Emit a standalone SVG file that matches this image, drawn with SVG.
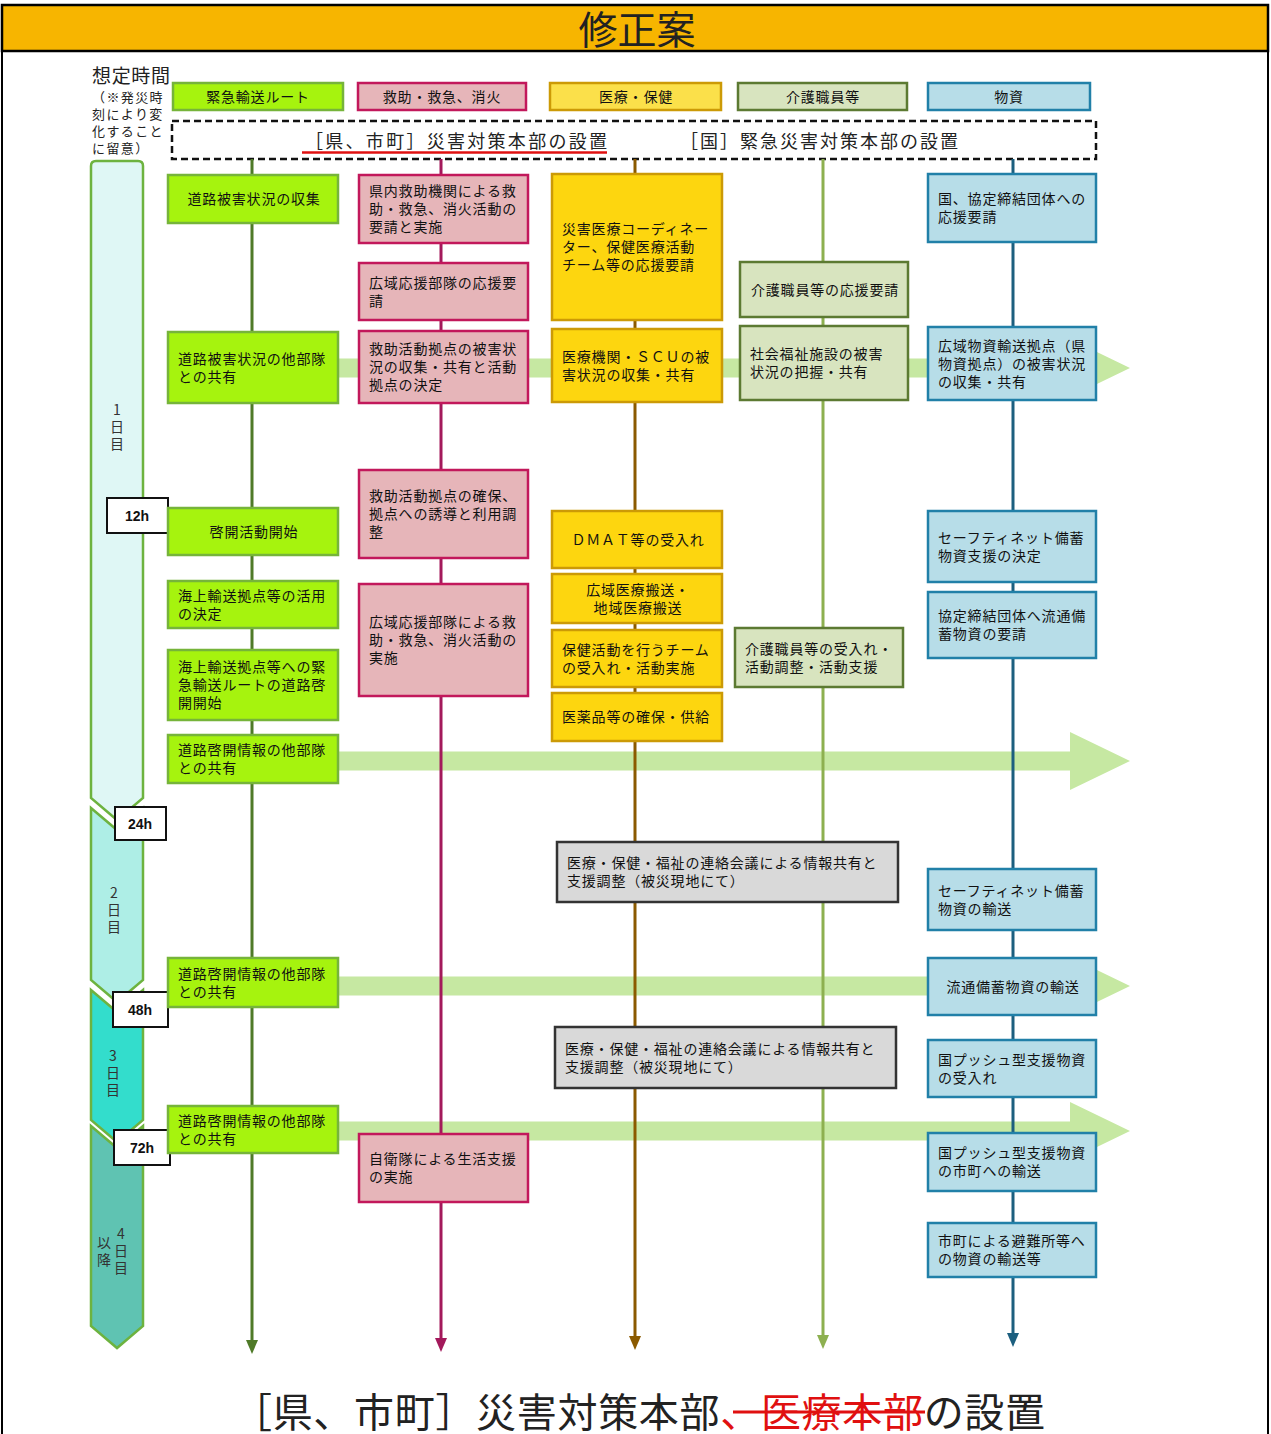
<svg xmlns="http://www.w3.org/2000/svg" width="1271" height="1434" viewBox="0 0 1271 1434">
<defs>
<style>
.t{font-family:"Noto Sans CJK JP","Noto Sans CJK SC",sans-serif;font-size:14px;letter-spacing:0.8px;fill:#111}
.c{text-anchor:middle}
.g{fill:#A6F30E;stroke:#76B43A;stroke-width:2.5}
.p{fill:#E6B5B9;stroke:#C2185B;stroke-width:2.5}
.y{fill:#FDD60F;stroke:#CC9A06;stroke-width:2.5}
.yh{fill:#FBE04A;stroke:#CC9A06;stroke-width:2.5}
.o{fill:#D8E4BF;stroke:#5C7A32;stroke-width:2.5}
.b{fill:#B7DDE8;stroke:#2180A8;stroke-width:2.5}
.k{fill:#D9D9D9;stroke:#333;stroke-width:2.5}
.tb{fill:#fff;stroke:#111;stroke-width:2}
.tt{font-family:"Liberation Sans",Arial,sans-serif;font-size:14px;font-weight:bold;fill:#111;text-anchor:middle}
.day{stroke:#6DB33F;stroke-width:2.5}
.dt{font-family:"Noto Sans CJK JP",sans-serif;font-size:14px;fill:#333;writing-mode:vertical-rl;text-orientation:upright;letter-spacing:3px}
.band{fill:#C6E8A2}
</style>
</defs>
<rect x="0" y="0" width="1271" height="1434" fill="#fff"/>
<rect x="2" y="50" width="1266" height="1400" fill="none" stroke="#000" stroke-width="2"/>
<g id="title">
<rect x="2" y="5" width="1266" height="46" fill="#F7B500" stroke="#000" stroke-width="2.5"/>
<text x="637" y="44" font-family="Noto Sans CJK JP,sans-serif" font-size="39" fill="#222" text-anchor="middle">修正案</text>
</g>
<g id="time-label">
<text x="92" y="83" font-family="Noto Sans CJK JP,sans-serif" font-size="19" fill="#222" textLength="78">想定時間</text>
<text font-family="Noto Sans CJK JP,sans-serif" font-size="13" fill="#222" letter-spacing="1.4">
<tspan x="92" y="102">（※発災時</tspan><tspan x="92" y="119">刻により変</tspan><tspan x="92" y="136">化すること</tspan><tspan x="92" y="153">に留意）</tspan>
</text>
</g>
<g id="headers">
<rect class="g" x="173" y="83" width="170" height="27"/><text class="t c" x="258" y="102">緊急輸送ルート</text>
<rect class="p" x="358" y="83" width="168" height="27"/><text class="t c" x="442" y="102">救助・救急、消火</text>
<rect class="yh" x="550" y="83" width="171" height="27"/><text class="t c" x="636" y="102">医療・保健</text>
<rect class="o" x="738" y="83" width="169" height="27"/><text class="t c" x="823" y="102">介護職員等</text>
<rect class="b" x="928" y="83" width="162" height="27"/><text class="t c" x="1009" y="102">物資</text>
</g>
<g id="hq-box">
<rect x="172" y="121" width="924" height="38" fill="#fff" stroke="#111" stroke-width="2.5" stroke-dasharray="7,4"/>
<text x="305" y="148" font-family="Noto Sans CJK JP,sans-serif" font-size="18" fill="#222" textLength="302" lengthAdjust="spacing">［県、市町］災害対策本部の設置</text>
<line x1="302" y1="152.5" x2="607" y2="152.5" stroke="#E01010" stroke-width="2.5"/>
<text x="680" y="148" font-family="Noto Sans CJK JP,sans-serif" font-size="18" fill="#222" textLength="278" lengthAdjust="spacing">［国］緊急災害対策本部の設置</text>
</g>
<g id="timebar">
<path class="day" fill="#DFF7F5" d="M91,166 Q91,161 96,161 L138,161 Q143,161 143,166 L143,798 L117,820 L91,798 Z"/>
<path class="day" fill="#AEEEE6" d="M91,808 L117,830 L143,808 L143,980 L117,1002 L91,980 Z"/>
<path class="day" fill="#33DDCC" d="M91,990 L117,1012 L143,990 L143,1120 L117,1142 L91,1120 Z"/>
<path class="day" fill="#5FC3B2" d="M91,1126 L117,1148 L143,1126 L143,1326 L117,1348 L91,1326 Z"/>
<text class="dt" x="117" y="403">1日目</text>
<text class="dt" x="114" y="886">2日目</text>
<text class="dt" x="113" y="1049">3日目</text>
<text class="dt" x="121" y="1227">4日目</text>
<text class="dt" x="104" y="1236">以降</text>
<rect class="tb" x="107" y="498" width="61" height="35"/><text class="tt" x="137" y="521">12h</text>
<rect class="tb" x="115" y="807" width="51" height="33"/><text class="tt" x="140" y="829">24h</text>
<rect class="tb" x="113" y="992" width="55" height="35"/><text class="tt" x="140" y="1015">48h</text>
<rect class="tb" x="114" y="1130" width="56" height="35"/><text class="tt" x="142" y="1153">72h</text>
</g>
<g id="connectors">
<path class="band" d="M337,358.5 L1070,358.5 L1070,339 L1130,368 L1070,397 L1070,377.5 L337,377.5 Z"/>
<path class="band" d="M337,751.5 L1070,751.5 L1070,732 L1130,761 L1070,790 L1070,770.5 L337,770.5 Z"/>
<path class="band" d="M337,976.5 L1070,976.5 L1070,957 L1130,986 L1070,1015 L1070,995.5 L337,995.5 Z"/>
<path class="band" d="M337,1121.5 L1070,1121.5 L1070,1102 L1130,1131 L1070,1160 L1070,1140.5 L337,1140.5 Z"/>
<line x1="252" y1="159" x2="252" y2="1342" stroke="#4F7A28" stroke-width="3"/>
<polygon points="246,1340 258,1340 252,1354" fill="#4F7A28"/>
<line x1="441" y1="159" x2="441" y2="1340" stroke="#A3195B" stroke-width="3"/>
<polygon points="435,1338 447,1338 441,1352" fill="#A3195B"/>
<line x1="635" y1="159" x2="635" y2="1338" stroke="#8B5A00" stroke-width="3"/>
<polygon points="629,1336 641,1336 635,1350" fill="#8B5A00"/>
<line x1="823" y1="159" x2="823" y2="1337" stroke="#8DB050" stroke-width="3"/>
<polygon points="817,1335 829,1335 823,1349" fill="#8DB050"/>
<line x1="1013" y1="159" x2="1013" y2="1335" stroke="#1C5F7F" stroke-width="3"/>
<polygon points="1007,1333 1019,1333 1013,1347" fill="#1C5F7F"/>
</g>
<g id="g1"><rect class="g" x="168" y="175" width="170" height="48"/><text class="t c" x="254" y="204">道路被害状況の収集</text></g>
<g id="g2"><rect class="g" x="168" y="332" width="170" height="71"/><text class="t"><tspan x="178" y="364">道路被害状況の他部隊</tspan><tspan x="178" y="382">との共有</tspan></text></g>
<g id="g3"><rect class="g" x="168" y="508" width="170" height="47"/><text class="t c" x="254" y="537">啓開活動開始</text></g>
<g id="g4"><rect class="g" x="168" y="581" width="170" height="47"/><text class="t"><tspan x="178" y="601">海上輸送拠点等の活用</tspan><tspan x="178" y="619">の決定</tspan></text></g>
<g id="g5"><rect class="g" x="168" y="650" width="170" height="70"/><text class="t"><tspan x="178" y="672">海上輸送拠点等への緊</tspan><tspan x="178" y="690">急輸送ルートの道路啓</tspan><tspan x="178" y="708">開開始</tspan></text></g>
<g id="g6"><rect class="g" x="168" y="735" width="170" height="48"/><text class="t"><tspan x="178" y="755">道路啓開情報の他部隊</tspan><tspan x="178" y="773">との共有</tspan></text></g>
<g id="g7"><rect class="g" x="168" y="958" width="170" height="49"/><text class="t"><tspan x="178" y="979">道路啓開情報の他部隊</tspan><tspan x="178" y="997">との共有</tspan></text></g>
<g id="g8"><rect class="g" x="168" y="1106" width="170" height="47"/><text class="t"><tspan x="178" y="1126">道路啓開情報の他部隊</tspan><tspan x="178" y="1144">との共有</tspan></text></g>
<g id="p1"><rect class="p" x="359" y="175" width="169" height="68"/><text class="t"><tspan x="369" y="196">県内救助機関による救</tspan><tspan x="369" y="214">助・救急、消火活動の</tspan><tspan x="369" y="232">要請と実施</tspan></text></g>
<g id="p2"><rect class="p" x="359" y="263" width="169" height="57"/><text class="t"><tspan x="369" y="288">広域応援部隊の応援要</tspan><tspan x="369" y="306">請</tspan></text></g>
<g id="p3"><rect class="p" x="359" y="331" width="169" height="72"/><text class="t"><tspan x="369" y="354">救助活動拠点の被害状</tspan><tspan x="369" y="372">況の収集・共有と活動</tspan><tspan x="369" y="390">拠点の決定</tspan></text></g>
<g id="p4"><rect class="p" x="359" y="470" width="169" height="88"/><text class="t"><tspan x="369" y="501">救助活動拠点の確保、</tspan><tspan x="369" y="519">拠点への誘導と利用調</tspan><tspan x="369" y="537">整</tspan></text></g>
<g id="p5"><rect class="p" x="359" y="584" width="169" height="112"/><text class="t"><tspan x="369" y="627">広域応援部隊による救</tspan><tspan x="369" y="645">助・救急、消火活動の</tspan><tspan x="369" y="663">実施</tspan></text></g>
<g id="p6"><rect class="p" x="359" y="1134" width="169" height="68"/><text class="t"><tspan x="369" y="1164">自衛隊による生活支援</tspan><tspan x="369" y="1182">の実施</tspan></text></g>
<g id="y1"><rect class="y" x="552" y="174" width="170" height="146"/><text class="t"><tspan x="562" y="234">災害医療コーディネー</tspan><tspan x="562" y="252">ター、保健医療活動</tspan><tspan x="562" y="270">チーム等の応援要請</tspan></text></g>
<g id="y2"><rect class="y" x="552" y="329" width="170" height="73"/><text class="t"><tspan x="562" y="362">医療機関・ＳＣＵの被</tspan><tspan x="562" y="380">害状況の収集・共有</tspan></text></g>
<g id="y3"><rect class="y" x="552" y="511" width="170" height="57"/><text class="t c" x="638" y="545">ＤＭＡＴ等の受入れ</text></g>
<g id="y4"><rect class="y" x="552" y="574" width="170" height="49"/><text class="t c"><tspan x="638" y="595">広域医療搬送・</tspan><tspan x="638" y="613">地域医療搬送</tspan></text></g>
<g id="y5"><rect class="y" x="552" y="630" width="170" height="57"/><text class="t"><tspan x="562" y="655">保健活動を行うチーム</tspan><tspan x="562" y="673">の受入れ・活動実施</tspan></text></g>
<g id="y6"><rect class="y" x="552" y="693" width="170" height="48"/><text class="t" x="562" y="722">医薬品等の確保・供給</text></g>
<g id="o1"><rect class="o" x="740" y="262" width="168" height="55"/><text class="t c" x="825" y="295">介護職員等の応援要請</text></g>
<g id="o2"><rect class="o" x="740" y="326" width="168" height="74"/><text class="t"><tspan x="750" y="359">社会福祉施設の被害</tspan><tspan x="750" y="377">状況の把握・共有</tspan></text></g>
<g id="o3"><rect class="o" x="735" y="628" width="168" height="59"/><text class="t"><tspan x="745" y="654">介護職員等の受入れ・</tspan><tspan x="745" y="672">活動調整・活動支援</tspan></text></g>
<g id="k1"><rect class="k" x="557" y="842" width="341" height="60"/><text class="t"><tspan x="567" y="868">医療・保健・福祉の連絡会議による情報共有と</tspan><tspan x="567" y="886">支援調整（被災現地にて）</tspan></text></g>
<g id="k2"><rect class="k" x="555" y="1027" width="341" height="61"/><text class="t"><tspan x="565" y="1054">医療・保健・福祉の連絡会議による情報共有と</tspan><tspan x="565" y="1072">支援調整（被災現地にて）</tspan></text></g>
<g id="b1"><rect class="b" x="928" y="174" width="168" height="68"/><text class="t"><tspan x="938" y="204">国、協定締結団体への</tspan><tspan x="938" y="222">応援要請</tspan></text></g>
<g id="b2"><rect class="b" x="928" y="327" width="168" height="73"/><text class="t"><tspan x="938" y="351">広域物資輸送拠点（県</tspan><tspan x="938" y="369">物資拠点）の被害状況</tspan><tspan x="938" y="387">の収集・共有</tspan></text></g>
<g id="b3"><rect class="b" x="928" y="511" width="168" height="71"/><text class="t"><tspan x="938" y="543">セーフティネット備蓄</tspan><tspan x="938" y="561">物資支援の決定</tspan></text></g>
<g id="b4"><rect class="b" x="928" y="592" width="168" height="66"/><text class="t"><tspan x="938" y="621">協定締結団体へ流通備</tspan><tspan x="938" y="639">蓄物資の要請</tspan></text></g>
<g id="b5"><rect class="b" x="928" y="869" width="168" height="61"/><text class="t"><tspan x="938" y="896">セーフティネット備蓄</tspan><tspan x="938" y="914">物資の輸送</tspan></text></g>
<g id="b6"><rect class="b" x="928" y="958" width="168" height="57"/><text class="t c" x="1013" y="992">流通備蓄物資の輸送</text></g>
<g id="b7"><rect class="b" x="928" y="1040" width="168" height="57"/><text class="t"><tspan x="938" y="1065">国プッシュ型支援物資</tspan><tspan x="938" y="1083">の受入れ</tspan></text></g>
<g id="b8"><rect class="b" x="928" y="1133" width="168" height="58"/><text class="t"><tspan x="938" y="1158">国プッシュ型支援物資</tspan><tspan x="938" y="1176">の市町への輸送</tspan></text></g>
<g id="b9"><rect class="b" x="928" y="1223" width="168" height="54"/><text class="t"><tspan x="938" y="1246">市町による避難所等へ</tspan><tspan x="938" y="1264">の物資の輸送等</tspan></text></g>
<g id="footer">
<text x="232" y="1427" font-family="Noto Sans CJK JP,sans-serif" font-size="40" fill="#222" textLength="813" lengthAdjust="spacing">［県、市町］災害対策本部<tspan fill="#E01010">、医療本部</tspan>の設置</text>
<line x1="733" y1="1412" x2="925" y2="1412" stroke="#E01010" stroke-width="3"/>
</g>
</svg>
